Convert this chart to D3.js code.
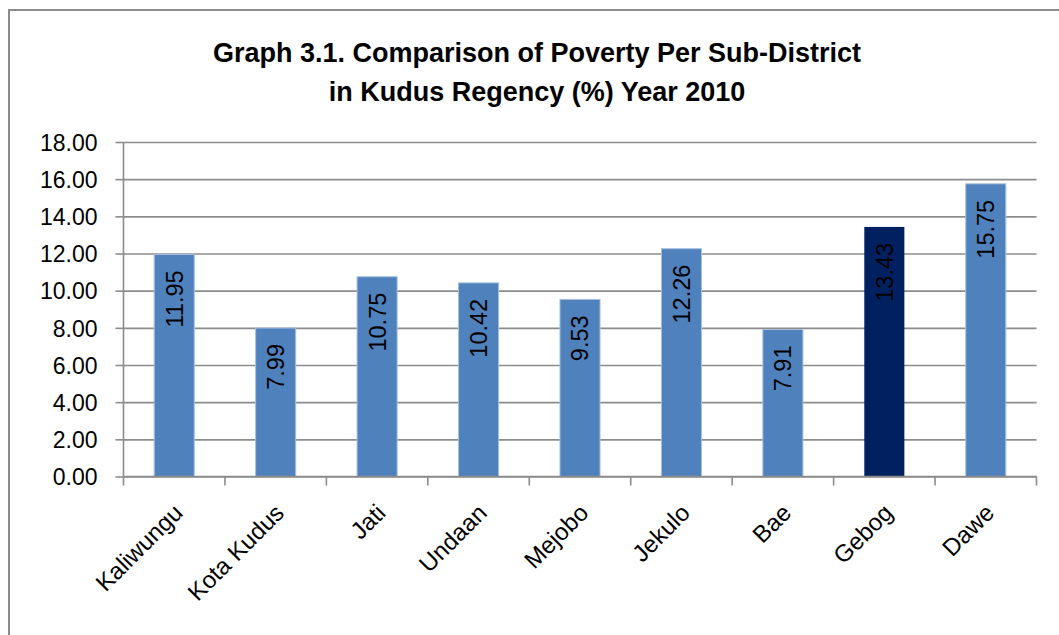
<!DOCTYPE html>
<html>
<head>
<meta charset="utf-8">
<script src="https://cdn.jsdelivr.net/npm/d3@7"></script>
<style>
  body { margin: 0; background: #fff; }
  svg { display: block; font-family: "Liberation Sans", Arial, sans-serif; }
</style>
</head>
<body>
<div id="chart"></div>
<script>
// data
const districts = ["Kaliwungu", "Kota Kudus", "Jati", "Undaan", "Mejobo", "Jekulo", "Bae", "Gebog", "Dawe"];
const poverty = [11.95, 7.99, 10.75, 10.42, 9.53, 12.26, 7.91, 13.43, 15.75];
const yTicks = [0, 2, 4, 6, 8, 10, 12, 14, 16, 18];
const titleLines = ["Graph 3.1. Comparison of Poverty Per Sub-District", "in Kudus Regency (%) Year 2010"];
const highlight = "Gebog";

const layout = {
    width: 1059,
    height: 635,
    left: 123.5,
    right: 1036.5,
    top: 142,
    bottom: 476.5
};

const gridColor = "#8c8c8c";

const svg = d3.select("#chart").append("svg")
    .attr("width", layout.width)
    .attr("height", layout.height);

// outer chart border (cut off at right/bottom like the original)
svg.append("rect")
    .attr("x", 9).attr("y", 10)
    .attr("width", 1100).attr("height", 700)
    .attr("fill", "none")
    .attr("stroke", gridColor)
    .attr("stroke-width", 2);

svg.append("g").selectAll("text")
    .data(titleLines)
    .join("text")
    .attr("x", 537)
    .attr("y", (d, i) => 62 + i * 39)
    .attr("text-anchor", "middle")
    .attr("font-weight", "bold")
    .attr("font-size", 27)
    .attr("fill", "#000")
    .text(d => d);

const x = d3.scaleBand()
    .domain(districts)
    .range([layout.left, layout.right])
    .paddingInner(0.605)
    .paddingOuter(0.3025);

const y = d3.scaleLinear()
    .domain([0, 18])
    .range([layout.bottom, layout.top]);

// y axis with grid
const yAxis = d3.axisLeft(y)
    .tickValues(yTicks)
    .tickSize(-(layout.right - layout.left))
    .tickFormat(d3.format(".2f"));

svg.append("g")
    .attr("transform", `translate(${layout.left},0)`)
    .call(function(g) {
        g.call(yAxis);
        g.select(".domain").remove();
        g.selectAll(".tick line").attr("stroke", gridColor).attr("stroke-width", 1.6);
        g.selectAll(".tick").append("line")
            .attr("x1", -8).attr("x2", 0)
            .attr("stroke", gridColor).attr("stroke-width", 1.6);
        g.selectAll(".tick text")
            .attr("x", -26)
            .attr("dy", "0.36em")
            .attr("font-size", 23)
            .attr("font-family", "'Liberation Sans', Arial, sans-serif")
            .attr("fill", "#000");
    });

svg.append("line")
    .attr("x1", layout.left).attr("x2", layout.left)
    .attr("y1", layout.top).attr("y2", layout.bottom)
    .attr("stroke", gridColor).attr("stroke-width", 1.6);

// bars
svg.append("g").selectAll("rect")
    .data(poverty)
    .join("rect")
    .attr("x", (d, i) => x(districts[i]))
    .attr("y", d => y(d))
    .attr("width", x.bandwidth())
    .attr("height", d => y(0) - y(d))
    .attr("fill", (d, i) => districts[i] === highlight ? "#002060" : "#4f81bd")
    .attr("stroke", (d, i) => districts[i] === highlight ? "none" : "#a9c0de")
    .attr("stroke-width", 1);

// value labels, rotated inside the bar end
svg.append("g").selectAll("text")
    .data(poverty)
    .join("text")
    .attr("transform", (d, i) => `translate(${x(districts[i]) + x.bandwidth() / 2},${y(d) + 16}) rotate(-90)`)
    .attr("text-anchor", "end")
    .attr("dy", "0.36em")
    .attr("font-size", 23.5)
    .attr("fill", "#000")
    .text(d => d.toFixed(2));

// x axis
const xAxisG = svg.append("g");
xAxisG.append("line")
    .attr("x1", layout.left).attr("x2", layout.right)
    .attr("y1", layout.bottom).attr("y2", layout.bottom)
    .attr("stroke", gridColor).attr("stroke-width", 1.6);

const tickPos = districts.map(d => x(d) - x.step() * 0.3025).concat([layout.right]);
xAxisG.selectAll(".xtick")
    .data(tickPos)
    .join("line")
    .attr("class", "xtick")
    .attr("x1", d => d).attr("x2", d => d)
    .attr("y1", layout.bottom).attr("y2", layout.bottom + 9)
    .attr("stroke", gridColor).attr("stroke-width", 1.6);

xAxisG.selectAll(".xlabel")
    .data(districts)
    .join("text")
    .attr("class", "xlabel")
    .attr("transform", d => `translate(${x(d) + x.bandwidth() / 2 - 2},${layout.bottom + 26}) rotate(-45)`)
    .attr("text-anchor", "end")
    .attr("dy", "0.7em")
    .attr("font-size", 24)
    .attr("fill", "#000")
    .text(d => d);
</script>
</body>
</html>
